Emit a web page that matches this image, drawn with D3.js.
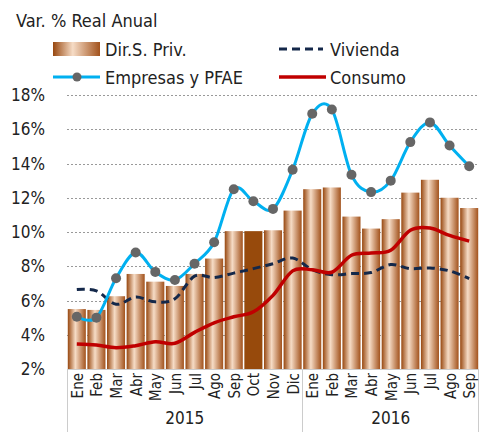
<!DOCTYPE html>
<html>
<head>
<meta charset="utf-8">
<script src="https://cdn.jsdelivr.net/npm/d3@7"></script>
<style>
  body { margin: 0; background: #fff; }
  text { font-family: "DejaVu Sans Condensed", "DejaVu Sans", sans-serif; font-stretch: condensed; fill: #222; }
</style>
</head>
<body>
<div id="chart"></div>
<script>
// data
var months = ["Ene","Feb","Mar","Abr","May","Jun","Jul","Ago","Sep","Oct","Nov","Dic",
              "Ene","Feb","Mar","Abr","May","Jun","Jul","Ago","Sep"]
var years = [{label: "2015", from: 0, to: 12}, {label: "2016", from: 12, to: 21}]
var dirPriv = [5.5, 5.45, 6.25, 7.55, 7.1, 6.85, 7.55, 8.45, 10.05, 10.05, 10.1, 11.25,
               12.5, 12.6, 10.9, 10.2, 10.75, 12.3, 13.05, 12.0, 11.4]
var empresas = [5.05, 5.0, 7.3, 8.8, 7.67, 7.2, 8.15, 9.4, 12.5, 11.8, 11.35, 13.63,
                16.9, 17.15, 13.34, 12.33, 13.0, 15.25, 16.4, 15.05, 13.84]
var vivienda = [6.64, 6.56, 5.78, 6.2, 5.92, 6.1, 7.42, 7.34, 7.6, 7.86, 8.15, 8.48,
                7.8, 7.51, 7.57, 7.63, 8.1, 7.86, 7.9, 7.73, 7.28]
var consumo = [3.46, 3.4, 3.24, 3.36, 3.59, 3.5, 4.14, 4.7, 5.05, 5.34, 6.3, 7.73,
               7.8, 7.65, 8.64, 8.77, 8.93, 10.1, 10.23, 9.8, 9.47]
var yTicks = [2, 4, 6, 8, 10, 12, 14, 16, 18]
var highlight = 9 // Oct 2015 bar is drawn solid

var width = 479, height = 432
var plotLeft = 67, plotRight = 479, plotTop = 95, plotBottom = 369

var svg = d3.select("#chart").append("svg")
  .attr("width", width)
  .attr("height", height)

var defs = svg.append("defs")
var grad = defs.append("linearGradient").attr("id", "copper")
  .attr("x1", "0%").attr("x2", "100%").attr("y1", "0%").attr("y2", "0%")
grad.append("stop").attr("offset", "0%").attr("stop-color", "#97470f")
grad.append("stop").attr("offset", "42%").attr("stop-color", "#f6dcc6")
grad.append("stop").attr("offset", "100%").attr("stop-color", "#a2521c")

var x = d3.scaleBand()
  .domain(d3.range(months.length))
  .range([plotLeft, plotRight])
  .paddingInner(0.08)
  .paddingOuter(0.04)

var y = d3.scaleLinear()
  .domain([2, 18])
  .range([plotBottom, plotTop])

var cx = function(i){ return x(i) + x.bandwidth() / 2 }

// gridlines
svg.selectAll(".grid")
  .data(yTicks.slice(1))
  .enter()
  .append("line")
    .attr("x1", plotLeft)
    .attr("x2", plotRight)
    .attr("y1", function(d){ return Math.round(y(d)) + 0.5 })
    .attr("y2", function(d){ return Math.round(y(d)) + 0.5 })
    .attr("stroke", "#999")
    .attr("stroke-width", 1)
    .style("stroke-dasharray", "2,2")

// y labels
svg.selectAll(".ylab")
  .data(yTicks)
  .enter()
  .append("text")
    .attr("x", 45)
    .attr("y", function(d){ return y(d) + 6 })
    .attr("text-anchor", "end")
    .style("font-size", "17px")
    .text(function(d){ return d + "%" })

// bars
svg.selectAll(".bar")
  .data(dirPriv)
  .enter()
  .append("rect")
    .attr("x", function(d, i){ return x(i) })
    .attr("width", x.bandwidth())
    .attr("y", function(d){ return y(d) })
    .attr("height", function(d){ return y(2) - y(d) })
    .attr("fill", function(d, i){ return i === highlight ? "#974a0c" : "url(#copper)" })

// category axis
svg.append("line")
  .attr("x1", plotLeft).attr("x2", plotRight)
  .attr("y1", plotBottom + 0.5).attr("y2", plotBottom + 0.5)
  .attr("stroke", "#ccc")

var seps = [0, 12, 21].map(function(i){ return i === 21 ? plotRight - 1 : x(i) - x.step() * x.paddingInner() / 2 })
seps[0] = plotLeft
svg.selectAll(".sep")
  .data(seps)
  .enter()
  .append("line")
    .attr("x1", function(d){ return Math.round(d) + 0.5 })
    .attr("x2", function(d){ return Math.round(d) + 0.5 })
    .attr("y1", plotBottom)
    .attr("y2", height)
    .attr("stroke", "#ccc")

svg.selectAll(".xlab")
  .data(months)
  .enter()
  .append("text")
    .attr("transform", function(d, i){ return "translate(" + (cx(i) + 6) + "," + (plotBottom + 4) + ") rotate(-90)" })
    .attr("text-anchor", "end")
    .style("font-size", "15px")
    .text(function(d){ return d })

svg.selectAll(".year")
  .data(years)
  .enter()
  .append("text")
    .attr("x", function(d){ return (x(d.from) + x(d.to - 1) + x.bandwidth()) / 2 })
    .attr("y", 424)
    .attr("text-anchor", "middle")
    .style("font-size", "17px")
    .text(function(d){ return d.label })

// lines
var line = d3.line()
  .x(function(d, i){ return cx(i) })
  .y(function(d){ return y(d) })
  .curve(d3.curveCatmullRom.alpha(0))

svg.append("path").datum(vivienda)
  .attr("d", line)
  .attr("fill", "none")
  .attr("stroke", "#14284a")
  .attr("stroke-width", 3)
  .style("stroke-dasharray", "8,5")

svg.append("path").datum(consumo)
  .attr("d", line)
  .attr("fill", "none")
  .attr("stroke", "#c00000")
  .attr("stroke-width", 3.5)

svg.append("path").datum(empresas)
  .attr("d", line)
  .attr("fill", "none")
  .attr("stroke", "#00b0f0")
  .attr("stroke-width", 3)

svg.selectAll(".dot")
  .data(empresas)
  .enter()
  .append("circle")
    .attr("cx", function(d, i){ return cx(i) })
    .attr("cy", function(d){ return y(d) })
    .attr("r", 5)
    .attr("fill", "#666")

// title
svg.append("text")
  .attr("x", 16)
  .attr("y", 27)
  .style("font-size", "18px")
  .text("Var. % Real Anual")

// legend
var leg = svg.append("g")
leg.append("rect").attr("x", 53).attr("y", 42).attr("width", 47).attr("height", 14).attr("fill", "url(#copper)")
leg.append("text").attr("x", 105).attr("y", 56).style("font-size", "18px").text("Dir.S. Priv.")

leg.append("line").attr("x1", 279).attr("x2", 323).attr("y1", 49).attr("y2", 49)
  .attr("stroke", "#14284a").attr("stroke-width", 3).style("stroke-dasharray", "8,5")
leg.append("text").attr("x", 330).attr("y", 56).style("font-size", "18px").text("Vivienda")

leg.append("line").attr("x1", 53).attr("x2", 100).attr("y1", 77).attr("y2", 77)
  .attr("stroke", "#00b0f0").attr("stroke-width", 3)
leg.append("circle").attr("cx", 77).attr("cy", 77).attr("r", 4.5).attr("fill", "#666")
leg.append("text").attr("x", 105).attr("y", 84).style("font-size", "18px").text("Empresas y PFAE")

leg.append("line").attr("x1", 279).attr("x2", 326).attr("y1", 77).attr("y2", 77)
  .attr("stroke", "#c00000").attr("stroke-width", 3.5)
leg.append("text").attr("x", 330).attr("y", 84).style("font-size", "18px").text("Consumo")
</script>
</body>
</html>
